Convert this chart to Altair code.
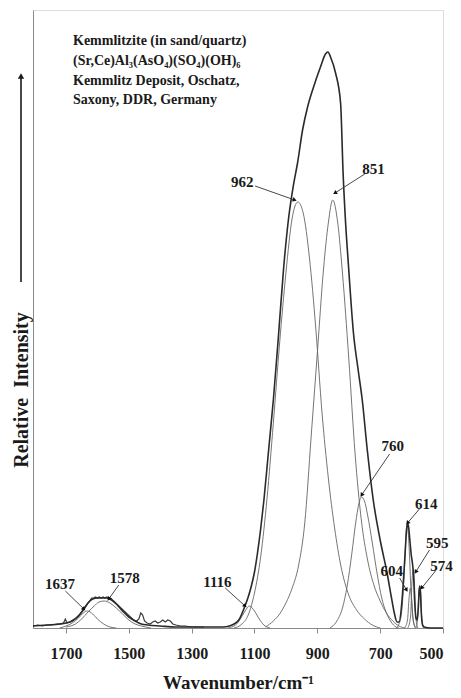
import math
import altair as alt
import pandas as pd

# ---------------- data ----------------
# wavenumber (cm-1) / intensity (arbitrary units) pairs for each curve
fit_wn = [1805, 1760, 1720, 1700, 1680, 1660, 1645, 1630, 1615, 1600, 1585, 1570, 1555, 1540, 1520, 1500,
          1480, 1460, 1440, 1400, 1350, 1250, 1200, 1180, 1165, 1150, 1134, 1120, 1110, 1100, 1090, 1080,
          1070, 1055, 1040, 1023, 1007, 991, 976, 963, 947, 931, 912, 890, 874, 866, 858, 842, 826, 818,
          810, 801, 785, 770, 757, 741, 722, 700, 678, 665, 655, 646, 640, 632, 625, 620, 616, 613, 609,
          605, 601, 597, 594, 590, 586, 582, 578, 576, 574, 572, 569, 565, 560, 540, 500]
fit_int = [2, 3, 4, 5, 7, 12, 18, 25, 29, 30, 30, 30, 28, 24, 17, 11,
           7, 4, 3, 2, 1, 1, 1, 2, 4, 8, 19, 31, 42, 56, 76, 100,
           128, 178, 228, 295, 361, 411, 443, 465, 498, 521, 541, 561, 574, 576, 571, 555, 525, 455,
           405, 363, 295, 258, 228, 178, 128, 88, 55, 32, 15, 6, 6, 22, 52, 78, 98, 105, 100,
           86, 73, 64, 54, 26, 10, 8, 24, 37, 42, 37, 15, 3, 1, 0, 0]

obs_wn = [1805, 1790, 1775, 1760, 1745, 1730, 1718, 1708, 1702, 1697, 1688, 1678, 1668, 1658, 1648, 1640,
          1632, 1625, 1618, 1612, 1606, 1600, 1594, 1588, 1582, 1576, 1570, 1564, 1558, 1552, 1545, 1535,
          1525, 1515, 1505, 1495, 1485, 1475, 1468, 1462, 1456, 1450, 1442, 1432, 1424, 1416, 1408, 1400,
          1392, 1384, 1376, 1368, 1360, 1350, 1335, 1320, 1300, 1280, 1260]
obs_int = [2, 3, 2, 3, 3, 4, 4, 5, 9, 5, 6, 8, 10, 13, 17, 20,
           24, 27, 30, 30, 31, 30, 31, 30, 31, 30, 31, 30, 30, 28, 26, 23,
           20, 17, 14, 11, 8, 7, 9, 15, 13, 7, 5, 4, 6, 7, 5, 6,
           8, 6, 8, 7, 4, 3, 2, 2, 1, 1, 1]

band_1637_wn = [1720, 1700, 1680, 1660, 1645, 1632, 1615, 1600, 1580, 1560, 1540]
band_1637_int = [0, 2, 5, 10, 15, 17, 14, 9, 4, 1, 0]

band_1578_wn = [1700, 1670, 1650, 1630, 1610, 1595, 1578, 1560, 1540, 1520, 1500, 1480, 1460, 1430]
band_1578_int = [1, 4, 9, 16, 22, 26, 27, 25, 20, 14, 8, 4, 2, 0]

band_1116_wn = [1185, 1160, 1145, 1130, 1116, 1100, 1085, 1070, 1050]
band_1116_int = [0, 3, 9, 17, 22, 17, 9, 3, 0]

band_962_wn = [1165, 1140, 1120, 1100, 1080, 1060, 1040, 1020, 1000, 980, 962, 945, 925, 905, 885,
               865, 845, 825, 800, 775, 750, 725, 700]
band_962_int = [0, 4, 13, 35, 72, 130, 205, 285, 355, 410, 426, 415, 370, 300, 215,
                150, 100, 62, 33, 18, 9, 3, 0]

band_851_wn = [1065, 1040, 1020, 1000, 980, 960, 940, 920, 900, 880, 865, 851, 835, 820, 800, 780,
               760, 740, 720, 700, 680, 660, 640, 620]
band_851_int = [1, 7, 14, 25, 40, 62, 105, 190, 275, 360, 405, 428, 405, 355, 270, 175,
                108, 68, 43, 27, 15, 7, 2, 0]

band_760_wn = [860, 840, 820, 805, 790, 778, 768, 760, 750, 740, 725, 710, 695, 680, 665, 650, 640]
band_760_int = [0, 6, 20, 42, 75, 105, 124, 131, 127, 113, 85, 55, 30, 15, 6, 1, 0]

band_614_wn = [650, 640, 632, 625, 620, 617, 614, 611, 607, 603, 598, 592, 585]
band_614_int = [0, 4, 15, 45, 78, 97, 103, 97, 75, 45, 18, 4, 0]

band_604_wn = [622, 613, 608, 604, 600, 595, 588]
band_604_int = [0, 8, 30, 40, 30, 8, 0]

band_595_wn = [612, 603, 599, 595, 591, 587, 580]
band_595_int = [0, 12, 45, 58, 45, 12, 0]

band_574_wn = [586, 580, 577, 574, 571, 568, 562]
band_574_int = [0, 12, 35, 40, 35, 12, 0]

# peak labels: text, label position, arrow start, arrow tip (wn, intensity)
lab_text = ["1637", "1578", "1116", "962", "851", "760", "614", "604", "595", "574"]
lab_wn = [1719, 1513, 1218, 1139, 721, 660, 553, 663, 518, 505]
lab_int = [44, 50, 46, 446, 459, 182, 124, 57, 85, 62]
arr_wn0 = [1702, 1532, 1193, 1098, 749, 670, 575, 638, 543, 524]
arr_int0 = [37, 43, 40, 442, 454, 174, 119, 50, 78, 57]
arr_wn1 = [1643, 1564, 1130, 972, 844, 759, 613, 616, 587, 568]
arr_int1 = [19, 29, 22, 428, 435, 133, 105, 38, 56, 40]

title_lines = ["Kemmlitzite (in sand/quartz)",
               "(Sr,Ce)Al\u2083(AsO\u2084)(SO\u2084)(OH)\u2086",
               "Kemmlitz Deposit, Oschatz,",
               "Saxony, DDR, Germany"]

x_ticks = [1700, 1500, 1300, 1100, 900, 700, 500]

# ---------------- build tables ----------------
bands = {
    "1637": (band_1637_wn, band_1637_int), "1578": (band_1578_wn, band_1578_int),
    "1116": (band_1116_wn, band_1116_int), "962": (band_962_wn, band_962_int),
    "851": (band_851_wn, band_851_int), "760": (band_760_wn, band_760_int),
    "614": (band_614_wn, band_614_int), "604": (band_604_wn, band_604_int),
    "595": (band_595_wn, band_595_int), "574": (band_574_wn, band_574_int),
}
rows = []
for name, (w, v) in bands.items():
    rows += [{"band": name, "wn": a, "I": b} for a, b in zip(w, v)]
df_bands = pd.DataFrame(rows)
df_fit = pd.DataFrame({"wn": fit_wn, "I": fit_int})
df_obs = pd.DataFrame({"wn": obs_wn, "I": obs_int})

W, H = 410, 618
XDOM = [1805, 500]
YDOM = [0, 618]
px_per_wn = W / (XDOM[0] - XDOM[1])
px_per_I = H / (YDOM[1] - YDOM[0])

angles = []
for a0, i0, a1, i1 in zip(arr_wn0, arr_int0, arr_wn1, arr_int1):
    dx = (a0 - a1) * px_per_wn
    dy = -(i1 - i0) * px_per_I
    angles.append(math.degrees(math.atan2(dx, -dy)) % 360)

df_lab = pd.DataFrame({"t": lab_text, "wn": lab_wn, "I": lab_int,
                       "wn0": arr_wn0, "I0": arr_int0, "wn1": arr_wn1, "I1": arr_int1,
                       "ang": angles})

FONT = "Liberation Serif"
xs = alt.Scale(domain=XDOM, nice=False, zero=False)
ys = alt.Scale(domain=YDOM, nice=False)

x_axis = alt.Axis(values=x_ticks, format="d", grid=False, tickSize=5, tickColor="#8a8a8a",
                  domainColor="#8a8a8a", labelFont=FONT, labelFontSize=16, labelFontWeight="bold",
                  labelColor="#1a1a1a", labelPadding=12, title="Wavenumber/cm\u207b\u00b9",
                  titleFont=FONT, titleFontSize=19, titleFontWeight="bold", titleColor="#1a1a1a",
                  titlePadding=12)
y_axis = alt.Axis(ticks=False, labels=False, grid=False, domainColor="#8a8a8a", title="")

base_bands = alt.Chart(df_bands).mark_line(color="#656565", strokeWidth=0.9, interpolate="monotone").encode(
    x=alt.X("wn:Q", scale=xs, axis=x_axis),
    y=alt.Y("I:Q", scale=ys, axis=y_axis),
    detail="band:N",
    order=alt.Order("wn:Q", sort="descending"),
)
fit_line = alt.Chart(df_fit).mark_line(color="#2a2a2a", strokeWidth=1.6, interpolate="monotone").encode(
    x=alt.X("wn:Q", scale=xs), y=alt.Y("I:Q", scale=ys),
    order=alt.Order("wn:Q", sort="descending"),
)
obs_line = alt.Chart(df_obs).mark_line(color="#3a3a3a", strokeWidth=1.2, interpolate="linear").encode(
    x=alt.X("wn:Q", scale=xs), y=alt.Y("I:Q", scale=ys),
    order=alt.Order("wn:Q", sort="descending"),
)

arrows = alt.Chart(df_lab).mark_rule(color="#333333", strokeWidth=0.9).encode(
    x=alt.X("wn0:Q", scale=xs), y=alt.Y("I0:Q", scale=ys), x2="wn1:Q", y2="I1:Q")
heads = alt.Chart(df_lab).mark_point(shape="triangle-up", filled=True, color="#111111", size=22,
                                     opacity=1).encode(
    x=alt.X("wn1:Q", scale=xs), y=alt.Y("I1:Q", scale=ys), angle=alt.Angle("ang:Q", scale=None))
labels = alt.Chart(df_lab).mark_text(font=FONT, fontSize=15, fontWeight="bold", color="#1a1a1a",
                                     align="center", baseline="middle").encode(
    x=alt.X("wn:Q", scale=xs), y=alt.Y("I:Q", scale=ys), text="t:N")

title_y = [31, 51, 71, 90]
title_layers = [
    alt.Chart(pd.DataFrame({"t": [line]})).mark_text(
        font=FONT, fontSize=14, fontWeight="bold", color="#1a1a1a", align="left", baseline="middle"
    ).encode(x=alt.value(40), y=alt.value(ty), text="t:N")
    for line, ty in zip(title_lines, title_y)
]

ylabel = alt.Chart(pd.DataFrame({"t": ["Relative\u00a0\u00a0Intensity"]})).mark_text(
    font=FONT, fontSize=20, fontWeight="bold", color="#1a1a1a", angle=270,
    align="center", baseline="middle").encode(x=alt.value(-11), y=alt.value(380), text="t:N")
yarrow = alt.Chart(pd.DataFrame({"a": [0]})).mark_rule(color="#1a1a1a", strokeWidth=1.6).encode(
    x=alt.value(-12), y=alt.value(68), y2=alt.value(272))
yhead = alt.Chart(pd.DataFrame({"a": [0]})).mark_point(shape="triangle-up", filled=True, color="#1a1a1a",
                                                        size=40, opacity=1).encode(
    x=alt.value(-12), y=alt.value(66))

chart = alt.layer(base_bands, obs_line, fit_line, arrows, heads, labels, *title_layers,
                  ylabel, yarrow, yhead).properties(
    width=W, height=H,
    autosize=alt.AutoSizeParams(type="none"),
    padding={"left": 25, "top": 2, "right": 10, "bottom": 70},
).configure_view(strokeWidth=0).configure(background="white")

chart.save("out.html", embed_options={"renderer": "svg", "actions": False})
